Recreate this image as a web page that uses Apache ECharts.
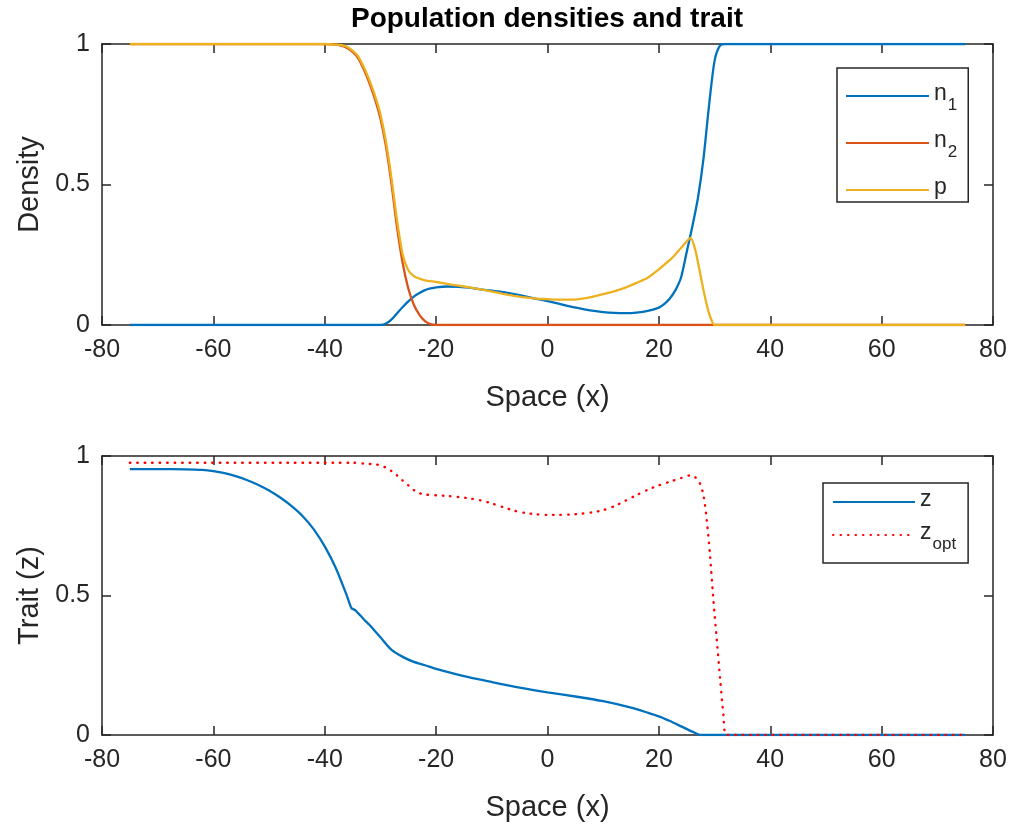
<!DOCTYPE html>
<html>
<head>
<meta charset="utf-8">
<script src="https://cdn.jsdelivr.net/npm/echarts@6/dist/echarts.min.js"></script>
<style>html,body{margin:0;padding:0;background:#fff}#c{width:1019px;height:828px}</style>
</head>
<body>
<div id="c"></div>
<script>
// ---- Data ----
const xTicks = [-80, -60, -40, -20, 0, 20, 40, 60, 80];
const yTicks = [0, 0.5, 1];

const n1X = [-75, -30, -29, -28, -27, -26, -25, -24, -23, -22, -21, -20, -18, -16, -14, -12, -10, -8, -6, -4, -2, 0, 2, 4, 6, 8, 10, 12, 14, 16, 18, 20, 21, 22, 23, 24, 25, 26, 27, 28, 29, 30, 31, 32, 75];
const n1Y = [0, 0, 0.005, 0.02, 0.042, 0.064, 0.084, 0.101, 0.114, 0.124, 0.13, 0.134, 0.137, 0.136, 0.133, 0.127, 0.122, 0.117, 0.11, 0.102, 0.093, 0.085, 0.076, 0.066, 0.058, 0.051, 0.046, 0.043, 0.042, 0.044, 0.05, 0.062, 0.075, 0.095, 0.125, 0.17, 0.26, 0.35, 0.45, 0.59, 0.78, 0.94, 0.995, 1, 1];

const n2X = [-75, -40, -38, -37, -36, -35, -34, -33, -32, -31, -30, -29, -28, -27, -26, -25, -24, -23, -22, -21, -20, 75];
const n2Y = [1, 1, 0.998, 0.994, 0.986, 0.972, 0.95, 0.91, 0.862, 0.805, 0.735, 0.635, 0.5, 0.345, 0.22, 0.13, 0.072, 0.036, 0.014, 0.003, 0, 0];

const pX = [-75, -40, -38, -37, -36, -35, -34, -33, -32, -31, -30, -29, -28, -27, -26, -25, -24, -23, -22, -20, -18, -16, -14, -12, -10, -8, -6, -4, -2, 0, 2, 4, 6, 8, 10, 12, 14, 16, 18, 20, 21, 22, 23, 24, 25, 25.7, 26.5, 27, 27.5, 28, 28.5, 29, 29.5, 30, 75];
const pY = [1, 1, 0.998, 0.996, 0.99, 0.976, 0.956, 0.918, 0.872, 0.817, 0.75, 0.652, 0.52, 0.37, 0.25, 0.195, 0.174, 0.165, 0.159, 0.153, 0.146, 0.14, 0.134, 0.127, 0.119, 0.111, 0.104, 0.098, 0.094, 0.092, 0.09, 0.09, 0.093, 0.1, 0.11, 0.12, 0.133, 0.15, 0.168, 0.198, 0.215, 0.232, 0.252, 0.275, 0.298, 0.31, 0.27, 0.225, 0.175, 0.125, 0.08, 0.042, 0.015, 0, 0];

const zX = [-75, -70, -65, -62, -60, -58, -56, -54, -52, -50, -48, -46, -44, -42, -40, -38, -36, -35.2, -34.5, -33, -32, -30, -28, -26, -24, -22, -20, -15, -10, -5, 0, 5, 10, 15, 18, 20, 22, 24, 26, 27.5, 75];
const zY = [0.953, 0.953, 0.952, 0.95, 0.946, 0.939, 0.928, 0.914, 0.897, 0.876, 0.851, 0.821, 0.785, 0.738, 0.676, 0.598, 0.498, 0.455, 0.447, 0.415, 0.395, 0.35, 0.305, 0.28, 0.262, 0.25, 0.237, 0.211, 0.19, 0.17, 0.153, 0.138, 0.121, 0.098, 0.08, 0.067, 0.05, 0.031, 0.012, 0, 0];

const zoptX = [-75, -35, -33, -31, -30, -29, -28, -27, -26, -25, -24, -23, -22, -20, -18, -16, -14, -12, -10, -8, -6, -4, -2, 0, 2, 4, 6, 8, 10, 12, 14, 16, 18, 20, 22, 24, 25.5, 26.5, 27.3, 28, 28.6, 29.2, 29.8, 30.4, 31, 31.6, 32.2, 75];
const zoptY = [0.976, 0.976, 0.973, 0.97, 0.967, 0.958, 0.946, 0.93, 0.912, 0.895, 0.878, 0.867, 0.862, 0.859, 0.857, 0.853, 0.848, 0.841, 0.83, 0.817, 0.804, 0.796, 0.791, 0.789, 0.789, 0.79, 0.793, 0.798, 0.806, 0.82, 0.84, 0.86, 0.879, 0.895, 0.908, 0.921, 0.93, 0.924, 0.905, 0.86, 0.77, 0.64, 0.48, 0.34, 0.2, 0.07, 0, 0];

// ---- Chart ----
const pairs = (xs, ys) => xs.map((x, i) => [x, ys[i]]);
const FONT = 'Liberation Sans, Arial, Helvetica, sans-serif';
const TXT = '#262626';
const AX = '#262626';

function xAx(grid, pos, showLabel, name) {
  return {
    type: 'value', gridIndex: grid, position: pos, min: xTicks[0], max: xTicks[xTicks.length - 1], interval: 20,
    axisLine: { show: true, onZero: false, lineStyle: { color: AX, width: 1.5 } },
    axisTick: { show: true, inside: true, length: 9, lineStyle: { color: AX, width: 1.5 } },
    axisLabel: { show: showLabel, color: TXT, fontSize: 25, fontFamily: FONT, margin: 13 },
    splitLine: { show: false },
    name: name || '', nameLocation: 'middle', nameGap: 58,
    nameTextStyle: { color: TXT, fontSize: 29, fontFamily: FONT }
  };
}
function yAx(grid, pos, showLabel, name) {
  return {
    type: 'value', gridIndex: grid, position: pos, min: yTicks[0], max: yTicks[yTicks.length - 1], interval: 0.5,
    axisLine: { show: true, onZero: false, lineStyle: { color: AX, width: 1.5 } },
    axisTick: { show: true, inside: true, length: 9, lineStyle: { color: AX, width: 1.5 } },
    axisLabel: { show: showLabel, color: TXT, fontSize: 25, fontFamily: FONT, margin: 12 },
    splitLine: { show: false },
    name: name || '', nameLocation: 'middle', nameGap: 58,
    nameTextStyle: { color: TXT, fontSize: 29, fontFamily: FONT }
  };
}

const rich = {
  b: { fontSize: 23, fontFamily: FONT, color: TXT, lineHeight: 28, verticalAlign: 'top' },
  s: { fontSize: 17, fontFamily: FONT, color: TXT, lineHeight: 17, padding: [15, 0, 0, 1], verticalAlign: 'top' }
};
const labelFmt = {
  'n1': '{b|n}{s|1}', 'n2': '{b|n}{s|2}', 'p': '{b|p}', 'z': '{b|z}', 'zopt': '{b|z}{s|opt}'
};

function line(name, xs, ys, xi, yi, color, type) {
  return {
    name: name, type: 'line', xAxisIndex: xi, yAxisIndex: yi,
    data: pairs(xs, ys), showSymbol: false, symbol: 'none', smooth: 0.25,
    lineStyle: { color: color, width: type ? 2.4 : 2.3, type: type || 'solid', cap: type ? 'round' : 'butt' },
    itemStyle: { color: color }, animation: false, z: 3
  };
}

const chart = echarts.init(document.getElementById('c'), null, { renderer: 'canvas', width: 1019, height: 828 });
chart.setOption({
  backgroundColor: '#ffffff',
  animation: false,
  title: {
    text: 'Population densities and trait', left: 547, top: 5, padding: 0, textAlign: 'center',
    textStyle: { fontSize: 28, fontWeight: 'bold', fontFamily: FONT, color: '#000' }
  },
  grid: [
    { left: 102, top: 44, width: 891, height: 281 },
    { left: 102, top: 456, width: 891, height: 279 }
  ],
  xAxis: [
    xAx(0, 'bottom', true, 'Space (x)'), xAx(0, 'top', false),
    xAx(1, 'bottom', true, 'Space (x)'), xAx(1, 'top', false)
  ],
  yAxis: [
    yAx(0, 'left', true, 'Density'), yAx(0, 'right', false),
    yAx(1, 'left', true, 'Trait (z)'), yAx(1, 'right', false)
  ],
  legend: [
    {
      data: ['n1', 'n2', 'p'], orient: 'vertical', left: 837, top: 68,
      padding: [14, 11, 3, 8], itemWidth: 83, itemHeight: 10, itemGap: 15,
      borderColor: AX, borderWidth: 1.5, backgroundColor: '#fff',
      itemStyle: { opacity: 0 },
      formatter: n => labelFmt[n], textStyle: { rich: rich }, selectedMode: false
    },
    {
      data: ['z', 'zopt'], orient: 'vertical', left: 823, top: 483,
      padding: [5, 12, 10, 9], itemWidth: 82, itemHeight: 10, itemGap: 10,
      borderColor: AX, borderWidth: 1.5, backgroundColor: '#fff',
      itemStyle: { opacity: 0 },
      formatter: n => labelFmt[n], textStyle: { rich: rich }, selectedMode: false
    }
  ],
  series: [
    line('n1', n1X, n1Y, 0, 0, '#0072BD'),
    line('n2', n2X, n2Y, 0, 0, '#D95319'),
    line('p', pX, pY, 0, 0, '#EDB120'),
    line('z', zX, zY, 2, 2, '#0072BD'),
    line('zopt', zoptX, zoptY, 2, 2, '#FF0000', [0.5, 7])
  ]
});
</script>
</body>
</html>
